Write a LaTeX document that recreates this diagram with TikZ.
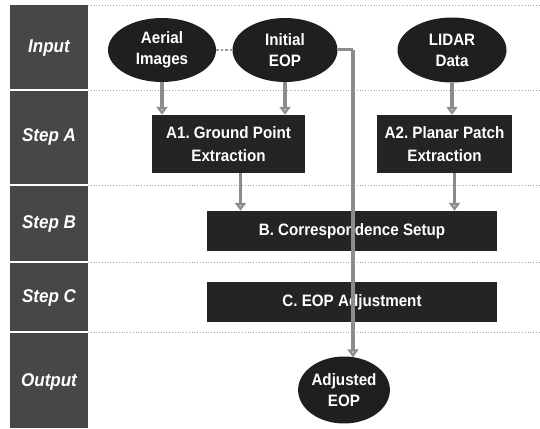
\documentclass[tikz,border=0pt]{standalone}
\usepackage{fontspec}
\setmainfont[FakeStretch=0.92]{Liberation Sans}
\usetikzlibrary{shapes.geometric,arrows.meta}
\frenchspacing
\begin{document}
\begin{tikzpicture}[x=1pt,y=-1pt,
  lane/.style={fill=black!72,draw=none},
  lanetext/.style={text=white,font=\fontsize{18.5}{20}\selectfont\bfseries\itshape},
  sep/.style={draw=black!35,dotted,line width=0.8pt},
  oval/.style={ellipse,fill=black!88,text=white,inner sep=0pt,align=center,
    font=\fontsize{16.5}{21}\selectfont\bfseries},
  proc/.style={rectangle,fill=black!86,text=white,inner sep=0pt,align=center,
    font=\fontsize{16.5}{23}\selectfont\bfseries},
  flow/.style={draw=black!45,line width=3.5pt,-{Triangle[width=11pt,length=8pt,fill=black!25]}},
  link/.style={draw=black!40,line width=2.5pt,dotted}]
\useasboundingbox (0,0) rectangle (540,428);
% lanes
\fill[lane] (10,5) rectangle (88,89);
\fill[lane] (10,91) rectangle (88,184);
\fill[lane] (10,186) rectangle (88,261);
\fill[lane] (10,263) rectangle (88,331);
\fill[lane] (10,333) rectangle (88,428);
\node[lanetext] (lin) at (49,48) {Input};
\node[lanetext] (lsa) at (49,137) {Step A};
\node[lanetext] (lsb) at (49,224) {Step B};
\node[lanetext] (lsc) at (49,298) {Step C};
\node[lanetext] (lout) at (49,382) {Output};
% separators
\draw[sep] (88,5) -- (540,5);
\draw[sep] (88,90) -- (540,90);
\draw[sep] (88,185) -- (540,185);
\draw[sep] (88,262) -- (540,262);
\draw[sep] (88,332) -- (540,332);
% nodes
\node[oval,minimum width=108pt,minimum height=64pt] (aer) at (162,50) {Aerial\\Images};
\node[oval,minimum width=105pt,minimum height=64pt] (eop) at (285,50) {Initial\\EOP};
\node[oval,minimum width=109pt,minimum height=65pt] (lid) at (452,50) {LIDAR\\Data};
\node[proc,minimum width=153pt,minimum height=58pt] (a1) at (228.5,144) {A1. Ground Point\\Extraction};
\node[proc,minimum width=135pt,minimum height=58pt] (a2) at (444.5,144) {A2. Planar Patch\\Extraction};
\node[proc,minimum width=290pt,minimum height=40pt] (b) at (352,231) {B. Correspondence Setup};
\node[proc,minimum width=290pt,minimum height=40pt] (c) at (352,302) {C. EOP Adjustment};
\node[oval,minimum width=88pt,minimum height=67pt] (adj) at (344,390) {Adjusted\\EOP};
% connectors
\draw[link] (aer.east) -- (eop.west);
\draw[flow] (aer.south) -- (aer.south |- a1.north);
\draw[flow] (eop.south) -- (eop.south |- a1.north);
\draw[flow] (lid.south) -- (lid.south |- a2.north);
\draw[flow] ([xshift=12pt]a1.south) -- ([xshift=12pt]a1.south |- b.north);
\draw[flow] ([xshift=10pt]a2.south) -- ([xshift=10pt]a2.south |- b.north);
\draw[draw=black!45,line width=3pt] (eop.east) -- ([xshift=9pt]eop.east -| adj.north);
\draw[flow] ([xshift=9pt]eop.east -| adj.north) -- ([xshift=9pt,yshift=-1pt]adj.north);
\end{tikzpicture}
\end{document}
